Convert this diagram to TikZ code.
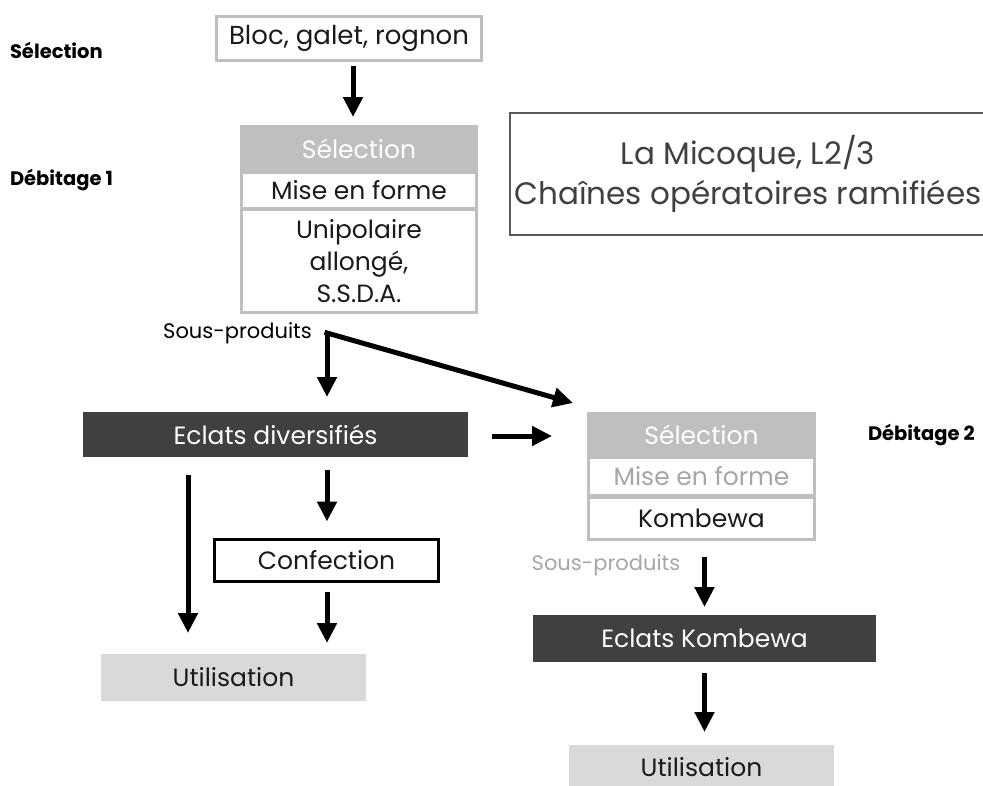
\documentclass[tikz,border=0pt]{standalone}
\usepackage{fontspec}
\setmainfont{Poppins}
\usetikzlibrary{arrows.meta,calc}
\definecolor{bgray}{HTML}{BFBFBF}
\definecolor{dfill}{HTML}{404040}
\definecolor{lfill}{HTML}{D9D9D9}
\definecolor{ttext}{HTML}{404040}
\definecolor{mgray}{HTML}{A6A6A6}
\definecolor{tline}{HTML}{595959}
\definecolor{btext}{HTML}{1A1A1A}
\begin{document}
\begin{tikzpicture}[x=1pt,y=-1pt,
  every node/.style={inner sep=0pt, outer sep=0pt},
  txt/.style={font=\fontsize{25}{32}\selectfont, text=btext},
  graybox/.style={draw=bgray, line width=3pt, fill=white, txt},
  grayback/.style={fill=bgray},
  cell/.style={fill=white, txt},
  darkbox/.style={fill=dfill, txt, text=white},
  usebox/.style={fill=lfill, txt},
  sidelab/.style={font=\fontsize{19.5}{22}\selectfont\bfseries, text=black, anchor=west},
  sublab/.style={font=\fontsize{21}{24}\selectfont},
  arr/.style={line width=5pt, -{Triangle[length=20pt,width=19pt]}}
]
\useasboundingbox (0,0) rectangle (983,785);

% left labels
\node[sidelab] (labsel) at (10,50) {Sélection};
\node[sidelab] (labdeb1) at (10,180) {Débitage 1};
\node[sidelab] (labdeb2) at (868,435) {Débitage 2};

% top block
\node[graybox, minimum width=265, minimum height=44, font=\fontsize{26}{32}\selectfont] (bloc) at (349,38.5) {Bloc, galet, rognon};

% debitage 1 group
\node[grayback, minimum width=238, minimum height=189] (sel1) at (359,219.5) {};
\node[txt, text=white] (sel1t) at (359,149) {Sélection};
\node[cell, minimum width=232, minimum height=33] (mise1) at (359,190) {Mise en forme};
\node[cell, minimum width=232, minimum height=100, align=center] (uni1) at (359,261) {Unipolaire\\allongé,\\S.S.D.A.};

% title
\node[draw=tline, line width=1.5pt, minimum width=476, minimum height=122, align=center,
      font=\fontsize{31}{40}\selectfont, text=ttext] (title) at (748,174) {La Micoque, L2/3\\Chaînes opératoires ramifiées};

% sous-produits 1
\node[sublab, text=black] (sp1) at (237.5,333) {Sous-produits};
\coordinate (sp) at (327,333);

% eclats diversifies etc
\node[darkbox, minimum width=385, minimum height=45] (ecl) at (275.5,434.5) {Eclats diversifiés};
\node[draw=black, line width=3pt, fill=white, txt, minimum width=224, minimum height=42] (conf) at (326.5,560.5) {Confection};
\node[usebox, minimum width=265, minimum height=47] (util1) at (233.5,677.5) {Utilisation};

% debitage 2 group
\node[grayback, minimum width=229, minimum height=129] (sel2) at (701.5,476.5) {};
\node[txt, text=white] (sel2t) at (701.5,435) {Sélection};
\node[cell, text=mgray, minimum width=223, minimum height=35] (mise2) at (701.5,476.5) {Mise en forme};
\node[cell, minimum width=223, minimum height=39] (komb) at (701.5,518) {Kombewa};
\node[sublab, text=mgray] (sp2) at (606,565) {Sous-produits};
\node[darkbox, minimum width=343, minimum height=47] (ekomb) at (704.5,638.5) {Eclats Kombewa};
\node[usebox, minimum width=265, minimum height=44] (util2) at (701.5,767) {Utilisation};

\coordinate (d2tip) at (573,403);
\coordinate (lx) at ($(ecl.south west)+(105,0)$);

% arrows
\draw[arr, shorten <=5pt, shorten >=8pt] ($(bloc.south)+(4,0)$) -- ($(sel1.north)+(-6,0)$);
\draw[arr, line cap=rect, shorten >=15pt] (sp) -- (sp |- ecl.north);
\draw[arr, line cap=rect] (sp) -- (d2tip);
\draw[arr, shorten <=24pt, shorten >=35pt] ($(ecl.east)+(0,1.5)$) -- ($(ecl.east -| sel2.west)+(0,1.5)$);
\draw[arr, shorten <=18pt, shorten >=21pt] (lx) -- (lx |- util1.north);
\draw[arr, shorten <=13pt, shorten >=18pt] (ecl.south -| sp) -- (conf.north -| sp);
\draw[arr, shorten <=10pt, shorten >=11pt] (conf.south -| sp) -- (util1.north -| sp);
\draw[arr, shorten <=16pt, shorten >=8pt] (sel2.south -| ekomb.north) -- (ekomb.north);
\draw[arr, shorten <=11pt, shorten >=13pt] (ekomb.south) -- (ekomb.south |- util2.north);
\end{tikzpicture}
\end{document}
